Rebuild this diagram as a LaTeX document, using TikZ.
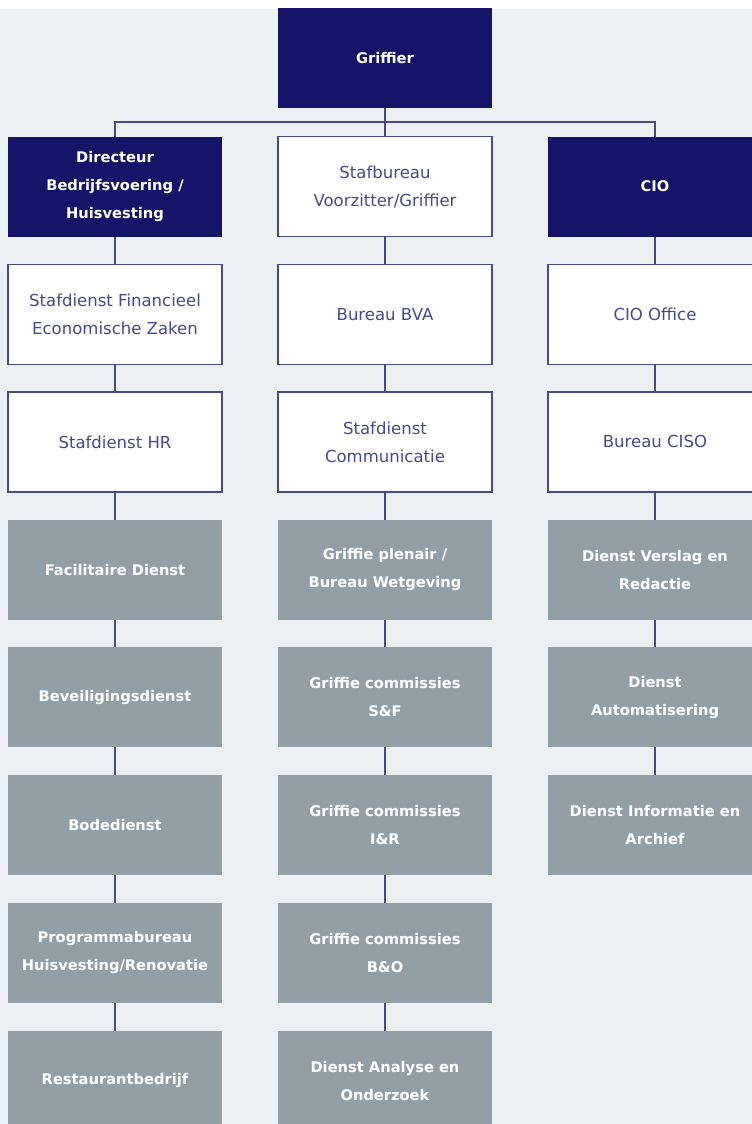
\documentclass[tikz,border=0pt]{standalone}
\usepackage{fontspec}
\setmainfont{DejaVu Sans}
\usetikzlibrary{positioning}
\definecolor{navy}{RGB}{20,20,104}
\definecolor{lineblue}{RGB}{72,72,140}
\definecolor{dienstgrey}{RGB}{147,159,166}
\definecolor{pagebg}{RGB}{238,241,243}
\tikzset{
  unit/.style={minimum width=160.5pt, minimum height=75pt, align=center, inner sep=2pt, outer sep=0pt},
  head/.style={unit, fill=navy, text=white, font=\bfseries\fontsize{11}{21}\selectfont},
  staf/.style={unit, fill=white, draw=lineblue, line width=0.9pt, text=lineblue, font=\fontsize{12.4}{21}\selectfont},
  dienst/.style={unit, fill=dienstgrey, text=white, font=\bfseries\fontsize{11}{21}\selectfont},
  link/.style={draw=lineblue, line width=1pt}
}

\begin{document}
\begin{tikzpicture}[x=0.75pt, y=-0.75pt, node distance=20.8pt]
    \useasboundingbox (0,0) rectangle (752,1124);
    \clip (0,0) rectangle (752,1124);
    \fill[pagebg] (0,9) rectangle (752,1124);

    % top
    \node[head] (griffier) at (385,58) {Griffier};
    \coordinate (bus) at (385,122);

    % left column
    \node[head] (dbv) at (115,186.5) {Directeur\\Bedrijfsvoering /\\Huisvesting};
    \node[staf, below=of dbv] (fez) {Stafdienst Financieel\\Economische Zaken};
    \node[staf, below=of fez] (hr) {Stafdienst HR};
    \node[dienst, below=of hr] (fac) {Facilitaire Dienst};
    \node[dienst, below=of fac] (bev) {Beveiligingsdienst};
    \node[dienst, below=of bev] (bode) {Bodedienst};
    \node[dienst, below=of bode] (prog) {Programmabureau\\Huisvesting/Renovatie};
    \node[dienst, below=of prog] (rest) {Restaurantbedrijf};

    % middle column
    \node[staf] (svg) at (385,186.5) {Stafbureau\\Voorzitter/Griffier};
    \node[staf, below=of svg] (bva) {Bureau BVA};
    \node[staf, below=of bva] (com) {Stafdienst\\Communicatie};
    \node[dienst, below=of com] (plen) {Griffie plenair /\\Bureau Wetgeving};
    \node[dienst, below=of plen] (sf) {Griffie commissies\\S\&F};
    \node[dienst, below=of sf] (ir) {Griffie commissies\\I\&R};
    \node[dienst, below=of ir] (bo) {Griffie commissies\\B\&O};
    \node[dienst, below=of bo] (dao) {Dienst Analyse en\\Onderzoek};

    % right column
    \node[head] (cio) at (655,186.5) {CIO};
    \node[staf, below=of cio] (cioo) {CIO Office};
    \node[staf, below=of cioo] (ciso) {Bureau CISO};
    \node[dienst, below=of ciso] (vr) {Dienst Verslag en\\Redactie};
    \node[dienst, below=of vr] (auto) {Dienst\\Automatisering};
    \node[dienst, below=of auto] (dia) {Dienst Informatie en\\Archief};

    \draw[link] (griffier) -- (bus) -- (svg);
    \draw[link] (bus) -| (dbv);
    \draw[link] (bus) -| (cio);
    \draw[link] (dbv) -- (fez) -- (hr) -- (fac) -- (bev) -- (bode) -- (prog) -- (rest);
    \draw[link] (svg) -- (bva) -- (com) -- (plen) -- (sf) -- (ir) -- (bo) -- (dao);
    \draw[link] (cio) -- (cioo) -- (ciso) -- (vr) -- (auto) -- (dia);
\end{tikzpicture}
\end{document}
